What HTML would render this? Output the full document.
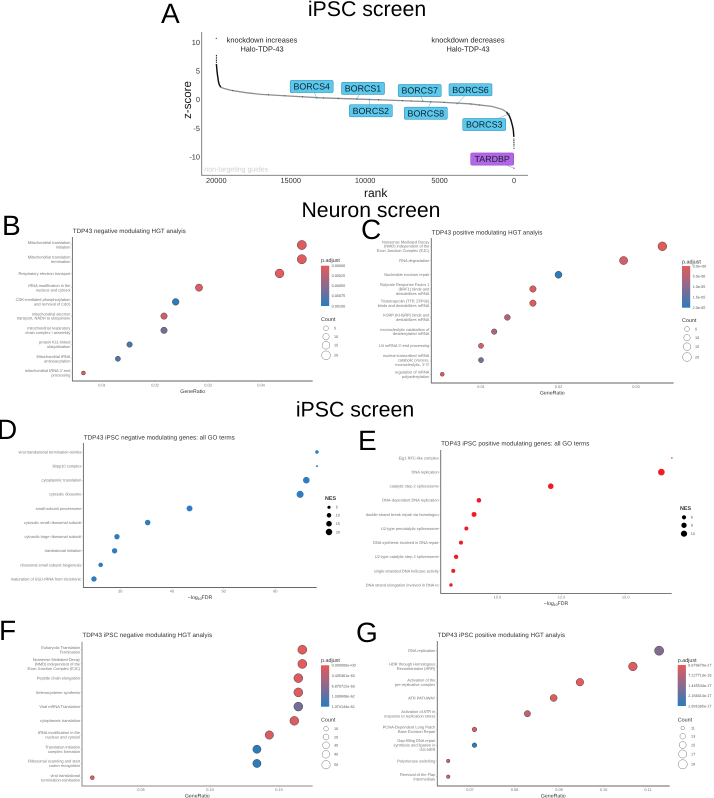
<!DOCTYPE html>
<html lang="en">
<head>
<meta charset="utf-8">
<title>iPSC and Neuron screen figure</title>
<style>
html,body{margin:0;padding:0;background:#fff;width:714px;height:798px;overflow:hidden}
svg{display:block;font-family:"Liberation Sans",sans-serif;text-rendering:geometricPrecision}
</style>
</head>
<body>
<svg id="fig" width="714" height="798" viewBox="0 0 714 798" xmlns="http://www.w3.org/2000/svg">
<defs>
<linearGradient id="pgrad" x1="0" y1="0" x2="0" y2="1">
<stop offset="0" stop-color="#e35b5c"/><stop offset="0.5" stop-color="#8a6a8e"/><stop offset="1" stop-color="#2c7bbb"/>
</linearGradient>
</defs>
<rect width="714" height="798" fill="#fff"/>
<text x="367" y="16" font-size="21.3" text-anchor="middle" fill="#000">iPSC screen</text>
<text x="371" y="217" font-size="21.2" text-anchor="middle" fill="#000">Neuron screen</text>
<text x="355" y="416.5" font-size="21.3" text-anchor="middle" fill="#000">iPSC screen</text>
<text x="161" y="23" font-size="28" fill="#000">A</text>
<text x="2" y="235" font-size="28" fill="#000">B</text>
<text x="361" y="239" font-size="28" fill="#000">C</text>
<text x="-3" y="439" font-size="28" fill="#000">D</text>
<text x="358" y="450" font-size="28" fill="#000">E</text>
<text x="-1" y="640" font-size="28" fill="#000">F</text>
<text x="356" y="642" font-size="28" fill="#000">G</text>
</svg>
<script>
// ---------- Panel A data ----------
const rankTicks = [20000, 15000, 10000, 5000, 0];
const zTicks = [10, 5, 0, -5, -10];
const curveRank = [19990, 19970, 19950, 19925, 19900, 19850, 19800, 19700, 19500, 19000, 18000, 17000, 15000, 13000, 10000, 8000, 5000, 3000, 1500, 800, 500, 300, 200, 100, 50, 25, 12];
const curveZ = [6.2, 5.6, 5.0, 4.4, 3.9, 3.1, 2.6, 2.15, 1.95, 1.6, 1.2, 0.9, 0.6, 0.3, 0.05, -0.15, -0.45, -0.75, -1.2, -1.7, -2.2, -2.9, -3.6, -4.6, -5.3, -5.9, -6.5];
const outlierRank = [20000, 19992, 19992, 19992, 19992, 19992, 8, 6, 4, 3, 2, 1];
const outlierZ = [10.7, 7.7, 7.4, 7.1, 6.8, 6.5, -6.9, -7.2, -7.5, -7.8, -8.1, -8.5];
const speckleRank = [18900, 16500, 15400, 14200, 12800, 11800, 9100, 7500, 6900, 4700, 2900, 2300];
const geneNames = ["BORCS4", "BORCS1", "BORCS2", "BORCS7", "BORCS8", "BORCS6", "BORCS3", "TARDBP"];
const geneRank = [13255, 10567, 9718, 6133, 5576, 3809, 336, 0];
const geneZ = [0.3, 0.1, 0.0, -0.3, -0.4, -0.7, -2.5, -12];

// ---------- Panel B data ----------
const bTerms = ["Mitochondrial translation\ninitiation", "Mitochondrial translation\ntermination", "Respiratory electron transport", "rRNA modification in the\nnucleus and cytosol", "CDK-mediated phosphorylation\nand removal of Cdc6", "mitochondrial electron\ntransport, NADH to ubiquinone", "mitochondrial respiratory\nchain complex I assembly", "protein K11-linked\nubiquitination", "Mitochondrial tRNA\naminoacylation", "mitochondrial tRNA 3'-end\nprocessing"];
const bRatio = [0.0477, 0.0477, 0.0435, 0.0283, 0.0239, 0.0217, 0.0217, 0.0152, 0.0130, 0.0065];
const bCount = [22, 22, 20, 13, 11, 10, 10, 7, 6, 3];
const bPadj = [0.00003, 0.00001, 0, 0.00004, 0.001, 0.0001, 0.00062, 0.00085, 0.0008, 0.00004];
const bXTicks = [0.01, 0.02, 0.03, 0.04];
const bXLabels = ["0.01", "0.02", "0.03", "0.04"];
const bColorLabels = ["0.00000", "0.00025", "0.00050", "0.00075", "0.00100"];
const bSizeLegend = [5, 10, 15, 20];

// ---------- Panel C data ----------
const cTerms = ["Nonsense Mediated Decay\n(NMD) independent of the\nExon Junction Complex (EJC)", "RNA degradation", "Nucleotide excision repair", "Butyrate Response Factor 1\n(BRF1) binds and\ndestabilizes mRNA", "Tristetraprolin (TTP, ZFP36)\nbinds and destabilizes mRNA", "KSRP (KHSRP) binds and\ndestabilizes mRNA", "exonucleolytic catabolism of\ndeadenylated mRNA", "U4 snRNA 3'-end processing", "nuclear-transcribed mRNA\ncatabolic process,\nexonucleolytic, 3'-5'", "regulation of mRNA\npolyadenylation"];
const cRatio = [0.0334, 0.0284, 0.0200, 0.0167, 0.0167, 0.0134, 0.0117, 0.0100, 0.0100, 0.0050];
const cCount = [20, 17, 12, 10, 10, 8, 7, 6, 6, 3];
const cPadj = [0.2e-6, 1.8e-6, 2e-5, 0.2e-6, 0.1e-6, 5e-6, 5.5e-6, 1e-6, 1.1e-5, 0];
const cXTicks = [0.01, 0.02, 0.03];
const cXLabels = ["0.01", "0.02", "0.03"];
const cColorLabels = ["0.0e+00", "5.0e-06", "1.0e-05", "1.5e-05", "2.0e-05"];
const cSizeLegend = [5, 10, 15, 20];

// ---------- Panel D data ----------
const dTerms = ["viral translational termination-reinitia", "90pp10 complex", "cytoplasmic translation", "cytosolic ribosome", "small-subunit processome", "cytosolic small ribosomal subunit", "cytosolic large ribosomal subunit", "translational initiation", "ribosomal small subunit biogenesis", "maturation of SSU-rRNA from tricistronic"];
const dFdr = [68.06, 68.06, 66.0, 64.8, 43.4, 35.3, 29.35, 28.9, 26.2, 24.9];
const dNes = [6, 2, 21, 24, 17, 15, 14, 14, 10, 14];
const dXTicks = [30, 40, 50, 60];
const dXLabels = ["30", "40", "50", "60"];
const dSizeLegend = [5, 10, 15, 20];

// ---------- Panel E data ----------
const eTerms = ["Eig1 RFC-like complex", "DNA replication", "catalytic step 2 spliceosome", "DNA-dependent DNA replication", "double-strand break repair via homologou", "U2-type precatalytic spliceosome", "DNA synthesis involved in DNA repair", "U2-type catalytic step 2 spliceosome", "single-stranded DNA helicase activity", "DNA strand elongation involved in DNA re"];
const eFdr = [16.8, 16.39, 12.08, 9.28, 9.09, 8.79, 8.58, 8.39, 8.28, 8.19];
const eNes = [3, 11, 8.6, 6.7, 7.4, 5.7, 5.7, 6.3, 5.7, 4.8];
const eXTicks = [10, 12.5, 15];
const eXLabels = ["10.0", "12.5", "15.0"];
const eSizeLegend = [6, 8, 10];

// ---------- Panel F data ----------
const fTerms = ["Eukaryotic Translation\nTermination", "Nonsense Mediated Decay\n(NMD) independent of the\nExon Junction Complex (EJC)", "Peptide chain elongation", "Selenocysteine synthesis", "Viral mRNA Translation", "cytoplasmic translation", "tRNA modification in the\nnucleus and cytosol", "Translation initiation\ncomplex formation", "Ribosomal scanning and start\ncodon recognition", "viral translational\ntermination-reinitiation"];
const fRatio = [0.1669, 0.1669, 0.1640, 0.1640, 0.1640, 0.1611, 0.1430, 0.1340, 0.1340, 0.0147];
const fCount = [58, 58, 57, 57, 57, 56, 50, 47, 47, 5];
const fPadj = [0, 0, 0.6e-63, 0.4e-63, 8.5e-63, 0.5e-63, 0.6e-63, 1.374e-62, 1.374e-62, 0];
const fXTicks = [0.05, 0.10, 0.15];
const fXLabels = ["0.05", "0.10", "0.15"];
const fColorLabels = ["0.000000e+00", "3.435361e-63", "6.870722e-63", "1.030608e-62", "1.374144e-62"];
const fSizeLegend = [10, 20, 30, 40, 50];

// ---------- Panel G data ----------
const gTerms = ["DNA replication", "HDR through Homologous\nRecombination (HRR)", "Activation of the\npre-replicative complex", "ATR  PATHWAY", "Activation of ATR in\nresponse to replication stress", "PCNA-Dependent Long Patch\nBase Excision Repair", "Gap-filling DNA repair\nsynthesis and ligation in\nGG-NER", "Polymerase switching", "Removal of the Flap\nIntermediate"];
const gRatio = [0.1125, 0.1066, 0.0947, 0.0888, 0.0829, 0.0710, 0.0710, 0.0651, 0.0651];
const gCount = [19, 18, 16, 15, 14, 12, 12, 11, 11];
const gPadj = [1.55e-17, 0.1e-17, 0, 0.1e-17, 0.55e-17, 0.2e-17, 2.89e-17, 0.2e-17, 0.2e-17];
const gXTicks = [0.07, 0.08, 0.09, 0.10, 0.11];
const gXLabels = ["0.07", "0.08", "0.09", "0.10", "0.11"];
const gColorLabels = ["8.876670e-27", "7.227713e-18", "1.445543e-17", "2.168314e-17", "2.891085e-17"];
const gSizeLegend = [11, 13, 15, 17, 19];

// ---------- helpers ----------
const NS = 'http://www.w3.org/2000/svg';
const fig = document.getElementById('fig');
function mk(tag, attrs, txt) {
  const e = document.createElementNS(NS, tag);
  for (const k in attrs) e.setAttribute(k, attrs[k]);
  if (txt !== undefined) e.textContent = txt;
  fig.appendChild(e);
  return e;
}
function mark(e, name) {
  
  
  return e;
}
function linear(d0, d1, r0, r1) {
  return v => r0 + (v - d0) / (d1 - d0) * (r1 - r0);
}
function areaScale(d0, d1, r0, r1) {
  return v => {
    const t = (v - d0) / (d1 - d0);
    return Math.sqrt(Math.max(0, r0 * r0 + t * (r1 * r1 - r0 * r0)));
  };
}
const RED = [227, 91, 92], BLUE = [44, 123, 187];
function colorMix(t) {
  t = Math.max(0, Math.min(1, t));
  const c = RED.map((a, i) => Math.round(a + (BLUE[i] - a) * t));
  return 'rgb(' + c.join(',') + ')';
}

// ---------- Panel A ----------
(function () {
  const xA = linear(20000, 0, 216.3, 514);
  const yA = linear(10, -10, 42.3, 156.8);
  const ax = mk('path', { d: 'M201.7 32V175.3H528', fill: 'none', stroke: '#777', 'stroke-width': 0.9 });
  mark(ax, 'rank-plot-axes');
  rankTicks.forEach(r => {
    const t = mk('text', { x: xA(r), y: 183, 'font-size': 7.4, 'text-anchor': 'middle', fill: '#333' }, String(r));
    mark(t, 'x-tick-label');
  });
  zTicks.forEach(z => {
    const t = mk('text', { x: 200, y: yA(z) + 2.6, 'font-size': 7.4, 'text-anchor': 'end', fill: '#333' }, String(z));
    mark(t, 'y-tick-label');
  });
  const xt = mk('text', { x: 375.7, y: 197, 'font-size': 12, 'text-anchor': 'middle', fill: '#111' }, 'rank');
  mark(xt, 'x-axis-title');
  const yt = mk('text', { x: 0, y: 0, 'font-size': 11.5, 'text-anchor': 'middle', fill: '#111', transform: 'translate(191 100) rotate(-90)' }, 'z-score');
  mark(yt, 'y-axis-title');
  const pts = curveRank.map((r, i) => xA(r).toFixed(1) + ',' + yA(curveZ[i]).toFixed(1));
  const grey = mk('polyline', { points: pts.join(' '), fill: 'none', stroke: '#8f8f8f', 'stroke-width': 1.3 });
  mark(grey, 'rank-curve');
  const isTail = i => curveZ[i] > 2.1 || curveZ[i] < -2.1;
  const left = [], right = [];
  curveRank.forEach((r, i) => { if (isTail(i)) (r > 10000 ? left : right).push(xA(r).toFixed(1) + ',' + yA(curveZ[i]).toFixed(1)); });
  const tailL = mk('polyline', { points: left.join(' '), fill: 'none', stroke: '#111', 'stroke-width': 1.4 });
  mark(tailL, 'rank-curve-top-tail');
  const tailR = mk('polyline', { points: right.join(' '), fill: 'none', stroke: '#111', 'stroke-width': 1.4 });
  mark(tailR, 'rank-curve-bottom-tail');
  outlierRank.forEach((r, i) => {
    const c = mk('circle', { cx: xA(r), cy: yA(outlierZ[i]), r: 0.6, fill: '#222' });
    mark(c, 'outlier-guide');
  });
  function zAt(r) {
    for (let i = 1; i < curveRank.length; i++) {
      if (r >= curveRank[i]) return curveZ[i - 1] + (r - curveRank[i - 1]) / (curveRank[i] - curveRank[i - 1]) * (curveZ[i] - curveZ[i - 1]);
    }
    return curveZ[curveZ.length - 1];
  }
  speckleRank.forEach(r => {
    const c = mk('circle', { cx: xA(r), cy: yA(zAt(r)), r: 0.55, fill: '#333' });
    mark(c, 'guide-point');
  });
  const labelOffset = {
    BORCS4: [-5, -11.3], BORCS1: [6.3, -10.6], BORCS2: [1.5, 11.2], BORCS7: [-3, -10.7],
    BORCS8: [-5.2, 11.4], BORCS6: [13.2, -13.8], BORCS3: [-24.8, 10.6], TARDBP: [-21.8, -9.2]
  };
  geneNames.forEach((g, i) => {
    const px = xA(geneRank[i]), py = yA(geneZ[i]);
    const off = labelOffset[g];
    const cx = px + off[0], cy = py + off[1];
    const isTarget = g === 'TARDBP';
    const seg = mk('line', { x1: px, y1: py, x2: cx, y2: cy, stroke: '#4a8aa5', 'stroke-width': 0.4 });
    mark(seg, 'label-connector-' + g.toLowerCase());
    const dot = mk('circle', { cx: px, cy: py, r: 0.8, fill: isTarget ? '#b565e8' : '#2a8fc4' });
    mark(dot, 'gene-point-' + g.toLowerCase());
    const box = mk('rect', { x: cx - 21.5, y: cy - 6.1, width: 43, height: 12.2, rx: 1.5, fill: isTarget ? '#b565e8' : '#5bc8ee', stroke: isTarget ? '#9a55c4' : '#3f97b8', 'stroke-width': 0.6 });
    mark(box, 'gene-label-box-' + g.toLowerCase());
    const t = mk('text', { x: cx, y: cy + 3.1, 'font-size': 8.9, 'text-anchor': 'middle', fill: '#13222b' }, g);
    mark(t, 'gene-label-' + g.toLowerCase());
  });
  [['knockdown increases', 262, 42.5, 'annotation-increases-line1'], ['Halo-TDP-43', 262, 51.5, 'annotation-increases-line2'], ['knockdown decreases', 468, 42.5, 'annotation-decreases-line1'], ['Halo-TDP-43', 468, 51.5, 'annotation-decreases-line2']].forEach(a => {
    const t = mk('text', { x: a[1], y: a[2], 'font-size': 7.4, 'text-anchor': 'middle', fill: '#222' }, a[0]);
    mark(t, a[3]);
  });
  const nt = mk('text', { x: 204.3, y: 171.5, 'font-size': 7, fill: '#cfcfcf' }, 'non-targeting guides');
  mark(nt, 'non-targeting-guides-label');
})();

// ---------- Dot-plot panels ----------
function dotPanel(p) {
  const n = p.name;
  const title = mk('text', { x: p.xL + 0.4, y: p.titleY, 'font-size': 6.2, fill: '#333', textLength: p.titleW, lengthAdjust: 'spacingAndGlyphs' }, p.title);
  mark(title, n + '-title');
  const axes = mk('path', { d: 'M' + p.xL + ' ' + p.yT + 'V' + p.yB + 'H' + p.xR, fill: 'none', stroke: p.axisColor || '#666', 'stroke-width': p.axisW || 0.9 });
  mark(axes, n + '-axes');
  const lastTick = p.xTicks.length - 1;
  const xS = linear(p.xTicks[0], p.xTicks[lastTick], p.tick0, p.tickN);
  p.xTicks.forEach((v, i) => {
    const tk = mk('line', { x1: xS(v), x2: xS(v), y1: p.yB, y2: p.yB + 1.2, stroke: '#888', 'stroke-width': 0.4 });
    mark(tk, n + '-x-tick');
    const t = mk('text', { x: xS(v), y: p.tickLabelY, 'font-size': 3.9, 'text-anchor': 'middle', fill: '#777' }, p.xLabels[i]);
    mark(t, n + '-x-tick-label');
  });
  if (p.xTitle === 'log') {
    const t = mk('text', { x: p.xTitleX, y: p.xTitleY, 'font-size': 5.2, 'text-anchor': 'middle', fill: '#333' }, '\u2212log');
    const sub = document.createElementNS(NS, 'tspan');
    sub.setAttribute('font-size', '3.4');
    sub.setAttribute('dy', '1');
    sub.textContent = '10';
    t.appendChild(sub);
    const rest = document.createElementNS(NS, 'tspan');
    rest.setAttribute('dy', '-1');
    rest.textContent = 'FDR';
    t.appendChild(rest);
    mark(t, n + '-x-axis-title');
  } else {
    const t = mk('text', { x: p.xTitleX, y: p.xTitleY, 'font-size': 5.2, 'text-anchor': 'middle', fill: '#333' }, p.xTitle);
    mark(t, n + '-x-axis-title');
  }
  const rowY = i => p.row0 + i * p.rowStep;
  const rS = areaScale(p.sizeDomain[0], p.sizeDomain[1], p.sizeRange[0], p.sizeRange[1]);
  p.terms.forEach((term, i) => {
    const y = rowY(i);
    const lines = term.split('\n');
    const tk = mk('line', { x1: p.xL - 1.2, x2: p.xL, y1: y, y2: y, stroke: '#888', 'stroke-width': 0.4 });
    mark(tk, n + '-y-tick');
    lines.forEach((ln, j) => {
      const ly = y + 1.4 + (j - (lines.length - 1) / 2) * 4.45;
      const t = mk('text', { x: p.xL - 2, y: ly, 'font-size': 3.95, 'text-anchor': 'end', fill: '#777' }, ln);
      mark(t, n + '-term-label');
    });
    const fill = p.padj ? colorMix(p.padj[i] / p.padjMax) : p.dotColor;
    const attrs = { cx: xS(p.xVals[i]), cy: y, r: rS(p.sizes[i]), fill: fill };
    if (p.padj) { attrs.stroke = '#3a3a3a'; attrs['stroke-width'] = 0.45; }
    const dot = mk('circle', attrs);
    mark(dot, n + '-dot');
  });
  // colour legend
  if (p.padj) {
    const lx = p.legendX;
    const t = mk('text', { x: lx, y: p.padjTitleY, 'font-size': 5.4, fill: '#333' }, 'p.adjust');
    mark(t, n + '-colorbar-title');
    const bar = mk('rect', { x: lx, y: p.barT, width: 8.2, height: p.barB - p.barT, fill: 'url(#pgrad)' });
    mark(bar, n + '-colorbar');
    p.colorLabels.forEach((lab, i) => {
      const y = p.barT + (p.barB - p.barT) * i / (p.colorLabels.length - 1);
      const tx = mk('text', { x: lx + 10.6, y: y + 1.3, 'font-size': 3.75, fill: '#555' }, lab);
      mark(tx, n + '-colorbar-label');
    });
  }
  // size legend
  const st = mk('text', { x: p.legendX, y: p.sizeTitleY, 'font-size': 5.4, fill: '#333', 'font-weight': p.padj ? 'normal' : 'bold' }, p.sizeTitle);
  mark(st, n + '-size-legend-title');
  let cy = p.sizeStartY;
  p.sizeLegend.forEach((v, i) => {
    const r = rS(v);
    if (i > 0) cy += p.sizeGaps[i - 1];
    const c = mk('circle', { cx: p.legendCx, cy: cy, r: r, fill: p.padj ? '#fff' : '#000', stroke: p.padj ? '#555' : 'none', 'stroke-width': 0.4 });
    mark(c, n + '-size-legend-key');
    const t = mk('text', { x: p.legendLabelX, y: cy + 1.3, 'font-size': 3.75, fill: '#555' }, String(v));
    mark(t, n + '-size-legend-label');
  });
}

dotPanel({ name: 'panel-b', title: 'TDP43 negative modulating HGT analyis', titleY: 232.8, titleW: 113,
  xL: 72.4, xR: 312.7, yT: 237, yB: 381, xTicks: bXTicks, xLabels: bXLabels, tick0: 102, tickN: 261,
  tickLabelY: 386.7, xTitle: 'GeneRatio', xTitleX: 192.7, xTitleY: 393.2, row0: 245, rowStep: 14.22,
  terms: bTerms, xVals: bRatio, sizes: bCount, padj: bPadj, padjMax: 0.001,
  sizeDomain: [3, 22], sizeRange: [2, 4.6], colorLabels: bColorLabels, sizeLegend: bSizeLegend, sizeTitle: 'Count',
  legendX: 321, padjTitleY: 262, barT: 265.7, barB: 306, sizeTitleY: 321.2, sizeStartY: 328.3, sizeGaps: [8.4, 8.6, 10],
  legendCx: 326, legendLabelX: 334 });

dotPanel({ name: 'panel-c', title: 'TDP43 positive modulating HGT analyis', titleY: 234.4, titleW: 110.7,
  xL: 431.3, xR: 673.7, yT: 238, yB: 383, xTicks: cXTicks, xLabels: cXLabels, tick0: 481, tickN: 636,
  tickLabelY: 388.2, xTitle: 'GeneRatio', xTitleX: 552.3, xTitleY: 394.6, row0: 246.3, rowStep: 14.22,
  terms: cTerms, xVals: cRatio, sizes: cCount, padj: cPadj, padjMax: 2e-5,
  sizeDomain: [3, 20], sizeRange: [2, 4.4], colorLabels: cColorLabels, sizeLegend: cSizeLegend, sizeTitle: 'Count',
  legendX: 682, padjTitleY: 263.5, barT: 266, barB: 307.7, sizeTitleY: 322, sizeStartY: 329, sizeGaps: [8.7, 9, 10.3],
  legendCx: 687, legendLabelX: 695 });

dotPanel({ name: 'panel-d', title: 'TDP43 iPSC negative modulating genes: all GO terms', titleY: 439.4, titleW: 151,
  xL: 83.4, xR: 316.7, yT: 443, yB: 587.5, xTicks: dXTicks, xLabels: dXLabels, tick0: 120.3, tickN: 275.3,
  tickLabelY: 592.3, xTitle: 'log', xTitleX: 200, xTitleY: 599, row0: 452, rowStep: 14.11,
  terms: dTerms, xVals: dFdr, sizes: dNes, padj: null, dotColor: '#2f7cc0',
  sizeDomain: [2, 25], sizeRange: [1, 3.6], sizeLegend: dSizeLegend, sizeTitle: 'NES',
  legendX: 325, sizeTitleY: 499.8, sizeStartY: 507.3, sizeGaps: [8, 8.4, 8.3],
  legendCx: 329, legendLabelX: 335.7 });

dotPanel({ name: 'panel-e', title: 'TDP43 iPSC positive modulating genes: all GO terms', titleY: 445.4, titleW: 148.3,
  xL: 440.7, xR: 671.7, yT: 450, yB: 593.4, xTicks: eXTicks, xLabels: eXLabels, tick0: 497.4, tickN: 625.7,
  tickLabelY: 598.3, xTitle: 'log', xTitleX: 556, xTitleY: 604.8, row0: 458, rowStep: 14.11,
  terms: eTerms, xVals: eFdr, sizes: eNes, padj: null, dotColor: '#ee1c25',
  sizeDomain: [3, 11], sizeRange: [0.7, 3.3], sizeLegend: eSizeLegend, sizeTitle: 'NES',
  legendX: 680, sizeTitleY: 509.8, sizeStartY: 517.3, sizeGaps: [8, 8.4],
  legendCx: 684, legendLabelX: 690.7 });

dotPanel({ name: 'panel-f', title: 'TDP43 iPSC negative modulating HGT analyis', titleY: 637.2, titleW: 129.7,
  xL: 82, xR: 312.7, yT: 641.7, yB: 786, axisColor: '#888', axisW: 1, xTicks: fXTicks, xLabels: fXLabels, tick0: 141, tickN: 279,
  tickLabelY: 791, xTitle: 'GeneRatio', xTitleX: 197.3, xTitleY: 797.4, row0: 649.7, rowStep: 14.22,
  terms: fTerms, xVals: fRatio, sizes: fCount, padj: fPadj, padjMax: 1.374e-62,
  sizeDomain: [5, 58], sizeRange: [2, 4.5], colorLabels: fColorLabels, sizeLegend: fSizeLegend, sizeTitle: 'Count',
  legendX: 321, padjTitleY: 662.2, barT: 665.3, barB: 706.7, sizeTitleY: 721.3, sizeStartY: 728.7, sizeGaps: [8.3, 8.3, 9, 10.4],
  legendCx: 326, legendLabelX: 334 });

dotPanel({ name: 'panel-g', title: 'TDP43 iPSC positive modulating HGT analyis', titleY: 637.2, titleW: 127.3,
  xL: 437.3, xR: 669.7, yT: 641, yB: 786, xTicks: gXTicks, xLabels: gXLabels, tick0: 470, tickN: 648,
  tickLabelY: 791, xTitle: 'GeneRatio', xTitleX: 553.3, xTitleY: 797.4, row0: 650.7, rowStep: 15.75,
  terms: gTerms, xVals: gRatio, sizes: gCount, padj: gPadj, padjMax: 2.891e-17,
  sizeDomain: [11, 19], sizeRange: [1.8, 4.6], colorLabels: gColorLabels, sizeLegend: gSizeLegend, sizeTitle: 'Count',
  legendX: 677.7, padjTitleY: 662.2, barT: 665, barB: 706, sizeTitleY: 721.3, sizeStartY: 728, sizeGaps: [8.3, 8.7, 9, 10.3],
  legendCx: 682.7, legendLabelX: 691 });
</script>
</body>
</html>
